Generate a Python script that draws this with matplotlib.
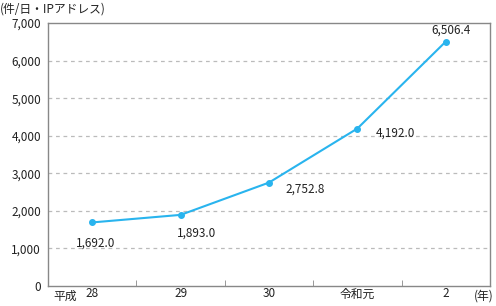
import matplotlib
matplotlib.use('Agg')
from matplotlib import pyplot as plt
import numpy as np

plt.rcParams['font.family'] = ['Noto Sans CJK JP', 'DejaVu Sans']

years = ['28', '29', '30', '令和元', '2']
values = [1692.0, 1893.0, 2752.8, 4192.0, 6506.4]
labels = ['1,692.0', '1,893.0', '2,752.8', '4,192.0', '6,506.4']
yticks = [0, 1000, 2000, 3000, 4000, 5000, 6000, 7000]

# label offsets in pixels (dx, dy)
offsets = [(3, -21), (16, -18), (36, -7), (38, -5), (5, 11)]

fig = plt.figure(figsize=(4.96, 3.06), dpi=100)
ax = fig.add_axes([48/496, 20/306, 442/496, 263/306])

x = np.arange(len(years))
blue = '#29b4ee'
ax.plot(x, values, color=blue, lw=1.5, marker='o', ms=4, zorder=3)

for xi, v, t, (dx, dy) in zip(x, values, labels, offsets):
    ax.annotate(t, (xi, v), xytext=(dx, dy), textcoords='offset pixels',
                ha='center', va='center', fontsize=8.5, color='#222222')

ax.set_xlim(-0.5, 4.5)
ax.set_ylim(0, 7000)
ax.set_yticks(yticks)
ax.set_yticklabels([f'{v:,}' for v in yticks], fontsize=8.5, color='#222222')
ax.set_xticks(x)
ax.set_xticklabels(years, fontsize=8.5, color='#222222')
ax.set_xticks(np.arange(0.5, 4.5, 1), minor=True)
ax.tick_params(axis='x', which='major', length=0, pad=1)
ax.tick_params(axis='x', which='minor', direction='in', length=4, color='#888888')
ax.tick_params(axis='y', length=0, pad=5)

for y in yticks[1:-1]:
    ax.axhline(y, color='#bbbbbb', lw=0.9, ls=(0, (3, 3)), zorder=1)

for s in ax.spines.values():
    s.set_color('#888888')
    s.set_linewidth(1.0)

fig.text(0/496, 1 - 9/306, '(件/日・IPアドレス)', fontsize=8.5, va='center', ha='left', color='#222222')
fig.text(65/496, 1 - 296/306, '平成', fontsize=8.5, va='center', ha='center', color='#222222')
fig.text(484/496, 1 - 296/306, '(年)', fontsize=8.5, va='center', ha='center', color='#222222')

fig.savefig('out.png', dpi=100)
